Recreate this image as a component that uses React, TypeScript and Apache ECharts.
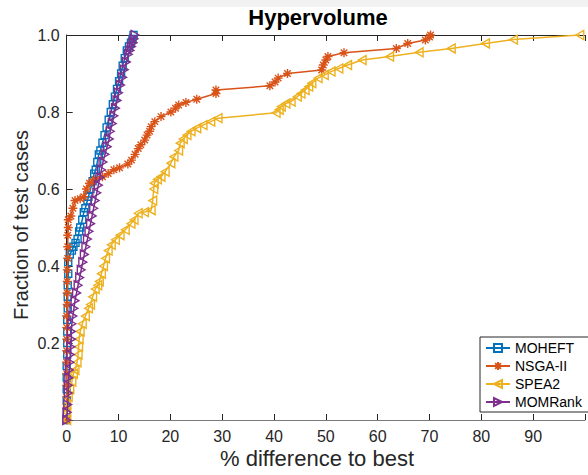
import React, { useEffect, useRef } from "react";
import * as echarts from "echarts";

const seriesNames = ["MOHEFT", "NSGA-II", "SPEA2", "MOMRank"];
const seriesColors = ["#0072BD", "#D95319", "#EDB120", "#7E2F8E"];
const xTickValues = [0, 10, 20, 30, 40, 50, 60, 70, 80, 90];
const yTickValues = [0.2, 0.4, 0.6, 0.8, 1.0];
const titleText = "Hypervolume";
const xLabelText = "% difference to best";
const yLabelText = "Fraction of test cases";

const moheft: number[][] = [
  [0, 0], [0, 0.02], [0, 0.05], [0, 0.08], [0, 0.11], [0, 0.14], [0.1, 0.17], [0.1, 0.2],
  [0.1, 0.23], [0.1, 0.26], [0.2, 0.29], [0.2, 0.32], [0.2, 0.35], [0.3, 0.38], [0.3, 0.41],
  [0.6, 0.43], [1.0, 0.44], [1.3, 0.45], [1.7, 0.46], [2.1, 0.47], [2.4, 0.49], [2.6, 0.5],
  [3.0, 0.52], [3.3, 0.54], [3.6, 0.55], [4.0, 0.57], [4.2, 0.58], [4.6, 0.6], [5.0, 0.62],
  [5.3, 0.64], [5.6, 0.65], [5.9, 0.67], [6.2, 0.69], [6.5, 0.7], [6.9, 0.72], [7.3, 0.74],
  [7.7, 0.76], [8.1, 0.78], [8.5, 0.8], [8.9, 0.82], [9.3, 0.84], [9.7, 0.86], [10.1, 0.88],
  [10.5, 0.9], [10.8, 0.92], [11.2, 0.94], [11.6, 0.96], [12.0, 0.97], [12.4, 0.98],
  [12.7, 0.99], [12.9, 1.0],
];

const nsga2: number[][] = [
  [0, 0], [0, 0.03], [0, 0.06], [0, 0.09], [0, 0.12], [0, 0.15], [0, 0.18], [0, 0.21],
  [0, 0.24], [0, 0.27], [0.1, 0.3], [0.1, 0.33], [0.1, 0.36], [0.1, 0.39], [0.2, 0.42],
  [0.2, 0.45], [0.2, 0.48], [0.3, 0.5], [0.3, 0.52], [0.8, 0.53], [1.2, 0.55], [1.6, 0.57],
  [2.6, 0.575], [3.3, 0.58], [3.8, 0.6], [4.4, 0.615], [5.0, 0.62], [5.5, 0.625], [6.9, 0.632],
  [8.0, 0.64], [9.1, 0.65], [10.2, 0.655], [11.8, 0.665], [12.5, 0.675], [13.2, 0.69],
  [13.8, 0.705], [14.3, 0.715], [15.05, 0.727], [15.5, 0.74], [16.0, 0.75], [16.3, 0.762],
  [17.0, 0.775], [18.2, 0.788], [20.1, 0.8], [21.0, 0.81], [21.6, 0.818], [23.0, 0.825],
  [25.1, 0.833], [28.8, 0.848], [28.8, 0.857], [39.2, 0.868], [40.2, 0.878], [40.8, 0.888],
  [42.6, 0.9], [49.2, 0.909], [49.5, 0.922], [50.0, 0.935], [50.4, 0.944], [53.5, 0.954],
  [63.6, 0.965], [65.8, 0.978], [69.2, 0.987], [70.0, 0.995], [70.2, 1.0],
];

const spea2: number[][] = [
  [0, 0], [0, 0.02], [0, 0.04], [0.3, 0.06], [0.6, 0.08], [1.0, 0.1], [1.3, 0.12], [1.6, 0.13],
  [2.0, 0.15], [2.2, 0.17], [2.3, 0.19], [2.4, 0.21], [2.6, 0.23], [3.0, 0.25], [3.6, 0.27],
  [4.2, 0.29], [4.6, 0.3], [5.0, 0.32], [5.5, 0.34], [6.0, 0.35], [6.3, 0.36], [6.7, 0.38],
  [7.1, 0.4], [7.5, 0.42], [8.0, 0.44], [8.6, 0.455], [9.4, 0.468], [10.3, 0.48], [11.3, 0.494],
  [12.4, 0.51], [13.0, 0.52], [13.8, 0.537], [15.0, 0.54], [16.3, 0.545], [16.6, 0.57],
  [16.8, 0.6], [16.9, 0.615], [17.5, 0.625], [18.2, 0.632], [19.0, 0.645], [20.1, 0.667],
  [20.7, 0.684], [21.6, 0.7], [21.9, 0.719], [22.5, 0.73], [23.2, 0.74], [24.0, 0.75],
  [25.1, 0.758], [26.3, 0.766], [27.8, 0.775], [29.2, 0.784], [40.4, 0.798], [41.0, 0.806],
  [41.4, 0.814], [42.3, 0.822], [43.3, 0.827], [44.5, 0.84], [45.2, 0.848], [46.0, 0.857],
  [46.7, 0.866], [47.3, 0.875], [48.5, 0.888], [49.7, 0.896], [51.0, 0.905], [52.5, 0.913],
  [54.2, 0.922], [57.0, 0.935], [62.3, 0.944], [68.0, 0.955], [74.2, 0.965], [80.8, 0.978],
  [86.2, 0.988], [99.0, 1.0],
];

const momrank: number[][] = [
  [0, 0], [0.1, 0.02], [0.2, 0.04], [0.3, 0.07], [0.3, 0.09], [0.4, 0.11], [0.5, 0.13],
  [0.6, 0.15], [0.7, 0.17], [0.8, 0.19], [0.9, 0.21], [0.9, 0.23], [1.0, 0.25], [1.2, 0.27],
  [1.4, 0.29], [1.6, 0.31], [1.9, 0.33], [2.2, 0.35], [2.5, 0.37], [2.8, 0.39], [3.1, 0.41],
  [3.4, 0.43], [3.7, 0.45], [4.0, 0.47], [4.3, 0.49], [4.6, 0.51], [4.9, 0.53], [5.2, 0.55],
  [5.5, 0.57], [5.8, 0.59], [6.1, 0.61], [6.4, 0.63], [6.7, 0.65], [7.0, 0.67], [7.4, 0.69],
  [7.8, 0.71], [8.2, 0.73], [8.4, 0.75], [8.8, 0.77], [9.1, 0.79], [9.4, 0.81], [9.7, 0.83],
  [10.0, 0.85], [10.4, 0.87], [10.8, 0.89], [11.1, 0.91], [11.5, 0.93], [11.9, 0.95],
  [12.2, 0.96], [12.5, 0.97], [12.8, 0.98], [13.0, 0.99], [13.2, 1.0],
];

const seriesData = [moheft, nsga2, spea2, momrank];

const FONT = "'Liberation Sans', Arial, Helvetica, sans-serif";
const AX = "#262626";

const markerPaths = [
  "path://M-4,-4L4,-4L4,4L-4,4Z",
  "path://M0,-5L0,5M-5,0L5,0M-3.6,-3.6L3.6,3.6M-3.6,3.6L3.6,-3.6",
  "path://M-4,0L4,-4.6L4,4.6Z",
  "path://M4,0L-4,-4.6L-4,4.6Z",
];
const markerSizes = [7, 9, 9, 9];

export default function App() {
  const ref = useRef<HTMLDivElement>(null);
  useEffect(() => {
    document.body.style.margin = "0";
    if (!ref.current) return;
    const chart = echarts.init(ref.current, null, { renderer: "svg" });
    const axisCommon = {
      type: "value" as const,
      min: 0,
      max: 100,
      interval: 10,
      splitLine: { show: false },
    };
    chart.setOption({
      animation: false,
      backgroundColor: "#ffffff",
      grid: { left: 66.7, top: 35, bottom: 55, right: -10.2, containLabel: false },
      xAxis: [
        {
          ...axisCommon,
          position: "bottom",
          axisLine: { show: true, lineStyle: { color: "#7a7a7a", width: 1 } },
          axisTick: { show: true, inside: true, length: 6, lineStyle: { color: AX, width: 1 } },
          axisLabel: {
            show: true,
            color: AX,
            fontSize: 16,
            fontFamily: FONT,
            margin: 8,
            formatter: (v: number) => (xTickValues.includes(v) ? String(v) : ""),
          },
        },
        {
          ...axisCommon,
          position: "top",
          axisLine: { show: true, lineStyle: { color: AX, width: 1 } },
          axisTick: { show: true, inside: true, length: 6, lineStyle: { color: AX, width: 1 } },
          axisLabel: { show: false },
        },
      ],
      yAxis: {
        type: "value",
        min: 0,
        max: 1,
        interval: 0.2,
        splitLine: { show: false },
        axisLine: { show: true, lineStyle: { color: AX, width: 1 } },
        axisTick: { show: true, inside: true, length: 6, lineStyle: { color: AX, width: 1 } },
        axisLabel: {
          color: AX,
          fontSize: 16,
          fontFamily: FONT,
          margin: 7,
          formatter: (v: number) => {
            const hit = yTickValues.find((t) => Math.abs(t - v) < 1e-6);
            return hit !== undefined ? hit.toFixed(1) : "";
          },
        },
      },
      legend: {
        orient: "vertical",
        left: 480,
        top: 337,
        padding: [4, 12, 3, 5],
        itemWidth: 24,
        itemHeight: 10,
        itemGap: 4,
        backgroundColor: "#ffffff",
        borderColor: AX,
        borderWidth: 1,
        borderRadius: 0,
        textStyle: { color: "#000", fontSize: 14, fontFamily: FONT, lineHeight: 14 },
        data: seriesNames,
      },
      graphic: [
        { type: "rect", shape: { x: 120, y: 0, width: 468, height: 7 }, style: { fill: "#f2f2f2" }, silent: true, z: -10 },
        {
          type: "text",
          x: 318,
          y: 17.3,
          style: { text: titleText, font: `bold 22px ${FONT}`, fill: "#000", textAlign: "center", textVerticalAlign: "middle" },
        },
        {
          type: "text",
          x: 317,
          y: 458.5,
          style: { text: xLabelText, font: `22px ${FONT}`, fill: AX, textAlign: "center", textVerticalAlign: "middle" },
        },
        {
          type: "text",
          x: 21,
          y: 225,
          rotation: Math.PI / 2,
          style: { text: yLabelText, font: `20px ${FONT}`, fill: AX, textAlign: "center", textVerticalAlign: "middle" },
        },
      ],
      series: seriesNames.map((name, i) => ({
        name,
        type: "line",
        xAxisIndex: 0,
        data: seriesData[i],
        symbol: markerPaths[i],
        symbolSize: markerSizes[i],
        symbolKeepAspect: true,
        showAllSymbol: true,
        clip: false,
        lineStyle: { color: seriesColors[i], width: 1.5 },
        itemStyle: {
          color: i === 1 ? seriesColors[i] : "rgba(255,255,255,0)",
          borderColor: seriesColors[i],
          borderWidth: 1.4,
        },
        emphasis: { disabled: true },
        z: 2 + i,
      })),
    });
    return () => chart.dispose();
  }, []);
  return <div ref={ref} style={{ width: 588, height: 475 }} />;
}
